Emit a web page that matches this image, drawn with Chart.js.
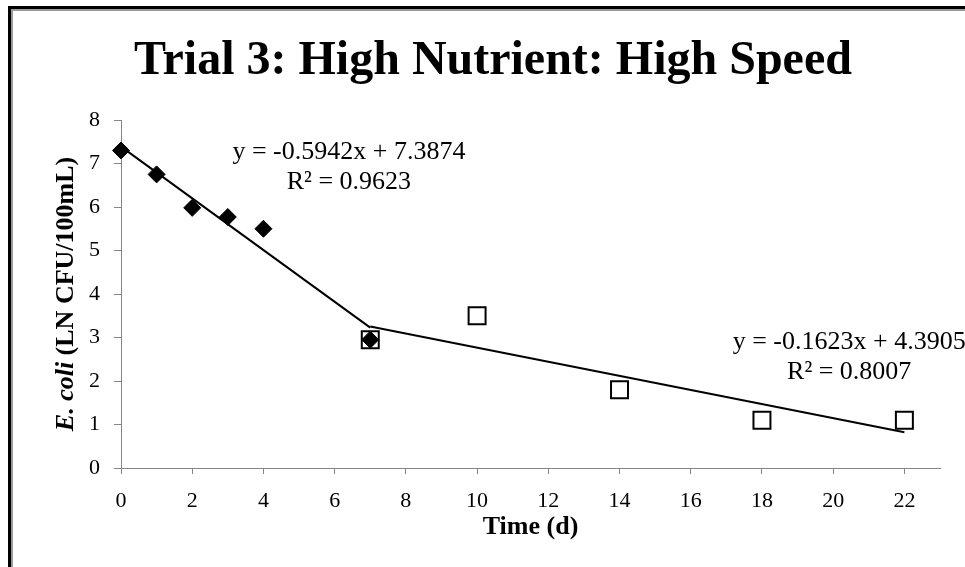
<!DOCTYPE html>
<html>
<head>
<meta charset="utf-8">
<title>Trial 3: High Nutrient: High Speed</title>
<script src="https://cdn.jsdelivr.net/npm/chart.js@4.4.1/dist/chart.umd.min.js"></script>
<style>
  html, body { margin: 0; padding: 0; background: #fff; }
  #wrap { position: relative; width: 965px; height: 567px; overflow: hidden; background: #fff; }
  #frame {
    position: absolute; left: 8px; top: 6px; width: 1200px; height: 800px;
    border-left: 3px solid #000; border-top: 3px solid #000;
    box-shadow: inset 2px 2px 0 #9a9a9a;
  }
  canvas { position: absolute; left: 0; top: 0; }
</style>
</head>
<body>
<div id="wrap">
  <div id="frame"></div>
  <canvas id="chart" width="965" height="567"></canvas>
</div>
<script>
// Data
const earlyDays = [0, 1, 2, 3, 4, 7];
const earlyLog = [7.3, 6.75, 5.98, 5.77, 5.5, 2.95];
const lateDays = [7, 10, 14, 18, 22];
const lateLog = [2.95, 3.5, 1.8, 1.1, 1.1];

// Linear trendlines as printed on the chart: [slope, intercept], [start, end]
const earlyFit = [-0.5942, 7.3874];
const earlyRange = [0, 7];
const earlyLabel = ["y = -0.5942x + 7.3874", "R\u00b2 = 0.9623"];
const lateFit = [-0.1623, 4.3905];
const lateRange = [7, 22];
const lateLabel = ["y = -0.1623x + 4.3905", "R\u00b2 = 0.8007"];

const xTicks = [0, 2, 4, 6, 8, 10, 12, 14, 16, 18, 20, 22];
const yTicks = [0, 1, 2, 3, 4, 5, 6, 7, 8];

const SERIF = "'Liberation Serif', 'Times New Roman', serif";
const AXIS_GREY = "#868686";

const toPoints = (xs, ys) => xs.map((x, i) => ({ x, y: ys[i] }));
const fitLine = (fit, range) => range.map((x) => ({ x, y: fit[0] * x + fit[1] }));

// Text that Chart.js cannot style on its own (mixed italic axis title, equations)
const annotations = {
  id: "annotations",
  afterDraw(chart) {
    const { ctx, chartArea, scales } = chart;
    ctx.save();
    ctx.fillStyle = "#000";
    ctx.textBaseline = "middle";

    // main title
    ctx.textAlign = "center";
    ctx.font = `bold 48px ${SERIF}`;
    ctx.fillText("Trial 3: High Nutrient: High Speed", 493, 62);

    // x axis title
    ctx.font = `bold 26px ${SERIF}`;
    ctx.fillText("Time (d)", (chartArea.left + chartArea.right) / 2, 527);

    // y axis title, "E. coli" in bold italic
    ctx.save();
    ctx.translate(66, (chartArea.top + chartArea.bottom) / 2);
    ctx.rotate(-Math.PI / 2);
    const partA = "E. coli";
    const partB = " (LN CFU/100mL)";
    ctx.font = `italic bold 26px ${SERIF}`;
    const wA = ctx.measureText(partA).width;
    ctx.font = `bold 26px ${SERIF}`;
    const wB = ctx.measureText(partB).width;
    ctx.textAlign = "left";
    ctx.font = `italic bold 26px ${SERIF}`;
    ctx.fillText(partA, -(wA + wB) / 2, 0);
    ctx.font = `bold 26px ${SERIF}`;
    ctx.fillText(partB, -(wA + wB) / 2 + wA, 0);
    ctx.restore();

    // trendline equations, anchored in data units
    ctx.textAlign = "center";
    ctx.font = `26px ${SERIF}`;
    const x = scales.x, y = scales.y;
    ctx.fillText(earlyLabel[0], x.getPixelForValue(6.4), y.getPixelForValue(7.26));
    ctx.fillText(earlyLabel[1], x.getPixelForValue(6.4), y.getPixelForValue(6.57));
    ctx.fillText(lateLabel[0], x.getPixelForValue(20.45), y.getPixelForValue(2.9));
    ctx.fillText(lateLabel[1], x.getPixelForValue(20.45), y.getPixelForValue(2.21));
    ctx.restore();
  },
};

new Chart(document.getElementById("chart"), {
  type: "scatter",
  data: {
    datasets: [
      {
        label: "Early",
        data: toPoints(earlyDays, earlyLog),
        pointStyle: "rectRot",
        pointRadius: 8.5,
        backgroundColor: "#000",
        borderColor: "#000",
        borderWidth: 1,
        clip: false,
      },
      {
        label: "Late",
        data: toPoints(lateDays, lateLog),
        pointStyle: "rect",
        pointRadius: 12,
        backgroundColor: "rgba(0, 0, 0, 0)",
        borderColor: "#000",
        borderWidth: 2,
        clip: false,
      },
      {
        label: "Early fit",
        data: fitLine(earlyFit, earlyRange),
        showLine: true,
        pointRadius: 0,
        borderColor: "#000",
        borderWidth: 2,
        clip: false,
      },
      {
        label: "Late fit",
        data: fitLine(lateFit, lateRange),
        showLine: true,
        pointRadius: 0,
        borderColor: "#000",
        borderWidth: 2,
        clip: false,
      },
    ],
  },
  options: {
    responsive: false,
    animation: false,
    layout: {
      padding: { top: 120, right: 25, bottom: 0, left: 0 },
    },
    plugins: {
      legend: { display: false },
      tooltip: { enabled: false },
      title: { display: false },
    },
    scales: {
      x: {
        type: "linear",
        min: 0,
        max: 23,
        afterFit: (scale) => { scale.height = 99; },
        afterBuildTicks: (scale) => { scale.ticks = xTicks.map((value) => ({ value })); },
        grid: { drawOnChartArea: false, drawTicks: true, tickLength: 6, color: AXIS_GREY },
        border: { color: AXIS_GREY, width: 1 },
        ticks: {
          color: "#000",
          padding: 14,
          maxRotation: 0,
          font: { family: SERIF, size: 22 },
        },
      },
      y: {
        type: "linear",
        min: 0,
        max: 8,
        afterFit: (scale) => { scale.width = 121; },
        afterBuildTicks: (scale) => { scale.ticks = yTicks.map((value) => ({ value })); },
        grid: { drawOnChartArea: false, drawTicks: true, tickLength: 7, color: AXIS_GREY },
        border: { color: AXIS_GREY, width: 1 },
        ticks: {
          color: "#000",
          padding: 14,
          font: { family: SERIF, size: 22 },
        },
      },
    },
  },
  plugins: [annotations],
});
</script>
</body>
</html>
